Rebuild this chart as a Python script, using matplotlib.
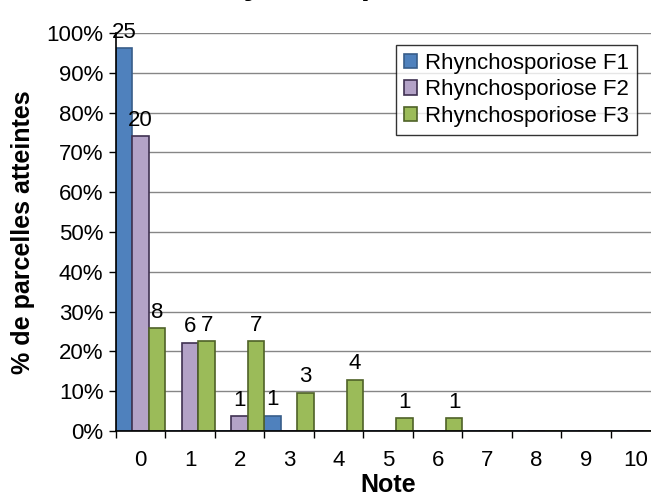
import numpy as np
import matplotlib.pyplot as plt
from matplotlib.ticker import PercentFormatter

plt.rcParams['font.family'] = ['Liberation Sans', 'DejaVu Sans']

notes = list(range(11))
series = ['Rhynchosporiose F1', 'Rhynchosporiose F2', 'Rhynchosporiose F3']
# nombre de parcelles par note
f1 = [25, 0, 0, 1, 0, 0, 0, 0, 0, 0, 0]
f2 = [20, 6, 1, 0, 0, 0, 0, 0, 0, 0, 0]
f3 = [8, 7, 7, 3, 4, 1, 1, 0, 0, 0, 0]
colors = ['#4F81BD', '#B3A2C7', '#9BBB59']
edges = ['#385D8A', '#3F3151', '#4F6228']

fig = plt.figure(figsize=(6.51, 4.98), dpi=100)
ax = fig.add_axes([0.178, 0.1345, 0.8365, 0.7992])

x = np.array(notes)
w = 1 / 3
for k, (vals, c, e, name) in enumerate(zip([f1, f2, f3], colors, edges, series)):
    vals = np.array(vals)
    pct = vals / vals.sum()
    pos = x - w + k * w
    ax.bar(pos, pct, w, color=c, edgecolor=e, linewidth=1.2, label=name, zorder=3)
    for xi, p, v in zip(pos, pct, vals):
        if v > 0:
            ax.annotate(str(v), (xi, p), xytext=(0, 4), textcoords='offset points',
                        ha='center', va='bottom', fontsize=16)

ax.set_xlim(-0.5, 10.5)
ax.set_ylim(0, 1)
ax.yaxis.set_major_locator(plt.MultipleLocator(0.1))
ax.yaxis.set_major_formatter(PercentFormatter(1.0, decimals=0))
ax.set_xticks(x)
ax.set_xticklabels([str(n) for n in notes])
ax.set_xticks(np.arange(-0.5, 11, 1), minor=True)
ax.tick_params(axis='x', which='major', length=0, labelsize=16, pad=14)
ax.tick_params(axis='x', which='minor', length=5, width=1, direction='out')
ax.tick_params(axis='y', length=5, width=1, labelsize=16, pad=4)

ax.grid(axis='y', color='#868686', linewidth=1, zorder=0)
ax.set_axisbelow(True)
for s in ['top', 'right']:
    ax.spines[s].set_visible(False)
for s in ['left', 'bottom']:
    ax.spines[s].set_color('black')
    ax.spines[s].set_linewidth(1.2)
    ax.spines[s].set_zorder(4)

ax.set_xlabel('Note', fontsize=18, fontweight='bold', labelpad=1)
ax.set_ylabel('% de parcelles atteintes', fontsize=18, fontweight='bold', labelpad=8)

leg = ax.legend(loc='upper left', bbox_to_anchor=(396 / 651, 1 - 45 / 498),
                bbox_transform=fig.transFigure, fontsize=16, frameon=True,
                fancybox=False, edgecolor='black', handlelength=0.6, handleheight=0.6,
                handletextpad=0.35, borderpad=0.35, labelspacing=0.25, borderaxespad=0)
leg.get_frame().set_linewidth(1)

fig.text(200 / 651, 1.012, 'Rhynchosporiose', fontsize=24, fontweight='bold',
         ha='left', va='baseline')

fig.savefig('out.png', dpi=100)
